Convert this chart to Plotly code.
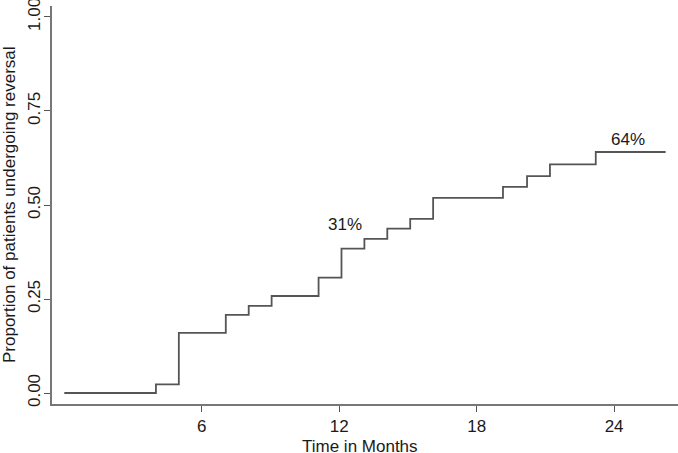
import plotly.graph_objects as go

# Step times (months) and cumulative proportion of patients undergoing reversal
months = [0, 4.0, 5.0, 7.05, 8.05, 9.05, 11.1, 12.1, 13.1, 14.1, 15.1, 16.1, 19.15, 20.2, 21.2, 23.2, 26.25]
proportion = [0, 0.023, 0.16, 0.208, 0.232, 0.258, 0.307, 0.384, 0.41, 0.437, 0.463, 0.519, 0.548, 0.577, 0.608, 0.641, 0.641]

x_ticks = [6, 12, 18, 24]
y_ticks = [0.0, 0.25, 0.5, 0.75, 1.0]

label_text = ["31%", "64%"]
label_x = [12.26, 24.6]
label_y = [0.447, 0.675]

x_title = "Time in Months"
y_title = "Proportion of patients undergoing reversal"

FONT = "Liberation Sans, Arial, sans-serif"
TXT = "#1a1a1a"

fig = go.Figure()
fig.add_trace(go.Scatter(
    x=months, y=proportion, mode="lines", line_shape="hv",
    line=dict(color="#555555", width=1.8), showlegend=False, hoverinfo="skip",
))

for t, lx, ly in zip(label_text, label_x, label_y):
    fig.add_annotation(x=lx, y=ly, text=t, showarrow=False,
                       font=dict(family=FONT, size=17, color=TXT))

# axis titles placed as annotations for precise positioning
fig.add_annotation(xref="paper", yref="paper", x=0.5, y=0, text=x_title,
                   showarrow=False, xanchor="center", yanchor="middle",
                   yshift=-42, xshift=-5,
                   font=dict(family=FONT, size=17, color=TXT))
fig.add_annotation(xref="paper", yref="paper", x=0, y=0.5, text=y_title,
                   showarrow=False, xanchor="center", yanchor="middle",
                   textangle=-90, xshift=-43, yshift=0,
                   font=dict(family=FONT, size=17, color=TXT))

fig.update_layout(
    width=678, height=453,
    margin=dict(l=52, r=0, t=6, b=49, autoexpand=False),
    plot_bgcolor="white", paper_bgcolor="white",
    font=dict(family=FONT, size=17, color=TXT),
    xaxis=dict(
        range=[-0.537, 26.79], tickmode="array", tickvals=x_ticks,
        ticks="outside", ticklen=6,
        tickcolor="#555555", tickwidth=1, showline=True, linecolor="#777777",
        linewidth=1.5, showgrid=False, zeroline=False, automargin=False,
        tickfont=dict(size=17), ticklabeloverflow="allow",
    ),
    yaxis=dict(
        range=[-0.0292, 1.0292], tickmode="array", tickvals=y_ticks,
        ticktext=[f"{v:.2f}" for v in y_ticks],
        ticks="outside", ticklen=6, tickcolor="#555555", tickwidth=1,
        showline=True, linecolor="#777777", linewidth=1.5, showgrid=False,
        zeroline=False, tickangle=-90, automargin=False,
        tickfont=dict(size=17), ticklabeloverflow="allow", ticklabelstandoff=-3,
    ),
)

fig.write_html("out.html", config={"displayModeBar": False},
               post_script="document.body.style.margin='0';document.body.style.padding='0';")
